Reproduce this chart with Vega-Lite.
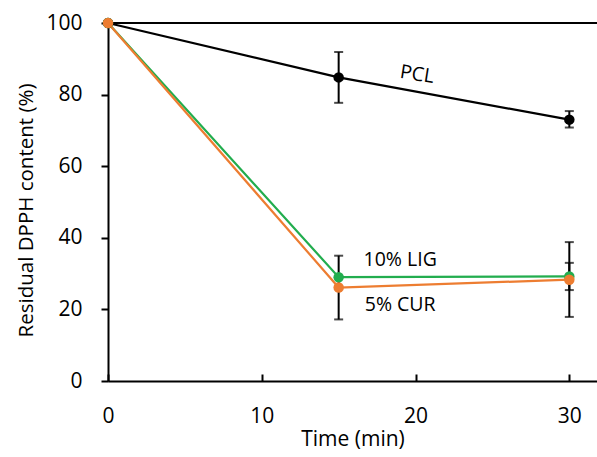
{
  "$schema": "https://vega.github.io/schema/vega-lite/v6.json",
  "width": 489,
  "height": 358,
  "autosize": {"type": "none"},
  "padding": {"left": 108, "top": 23, "right": 0, "bottom": 76},
  "background": "white",
  "config": {
    "view": {"stroke": null},
    "font": "Open Sans"
  },
  "datasets": {
    "main": [
      {"series": "PCL", "time": 0, "value": 100, "lo": 100, "hi": 100},
      {"series": "PCL", "time": 15, "value": 84.8, "lo": 77.7, "hi": 91.9},
      {"series": "PCL", "time": 30, "value": 73.0, "lo": 70.8, "hi": 75.4},
      {"series": "10% LIG", "time": 0, "value": 100, "lo": 100, "hi": 100},
      {"series": "10% LIG", "time": 15, "value": 29.0, "lo": 29.0, "hi": 29.0},
      {"series": "10% LIG", "time": 30, "value": 29.2, "lo": 25.4, "hi": 33.0},
      {"series": "5% CUR", "time": 0, "value": 100, "lo": 100, "hi": 100},
      {"series": "5% CUR", "time": 15, "value": 26.1, "lo": 17.2, "hi": 35.0},
      {"series": "5% CUR", "time": 30, "value": 28.3, "lo": 17.9, "hi": 38.8}
    ],
    "labels": [
      {"text": "PCL", "time": 20.1, "value": 85.6, "angle": 9, "style": "italic"},
      {"text": "10% LIG", "time": 19.0, "value": 33.8, "angle": 0, "style": "normal"},
      {"text": "5% CUR", "time": 19.0, "value": 21.3, "angle": 0, "style": "normal"}
    ]
  },
  "layer": [
    {
      "data": {"values": [{"y": 100}]},
      "mark": {"type": "rule", "color": "black", "strokeWidth": 2},
      "encoding": {"y": {"field": "y", "type": "quantitative", "scale": {"domain": [0, 100]}}}
    },
    {
      "data": {"name": "main"},
      "mark": {"type": "line", "strokeWidth": 2.2},
      "encoding": {
        "x": {"field": "time", "type": "quantitative", "scale": {"domain": [0, 31.8], "nice": false}, "axis": {"values": [0, 10, 20, 30], "title": "Time (min)", "grid": false, "labelFlush": false, "tickSize": -7, "tickWidth": 2, "domainWidth": 2, "domainColor": "black", "tickColor": "black", "labelColor": "black", "titleColor": "black", "labelFontSize": 21, "titleFontSize": 21, "titleFontWeight": "normal", "labelPadding": 31, "titlePadding": 2}},
        "y": {"field": "value", "type": "quantitative", "scale": {"domain": [0, 100], "nice": false}, "axis": {"values": [0, 20, 40, 60, 80, 100], "title": "Residual DPPH content (%)", "grid": false, "labelFlush": false, "tickSize": 7, "tickWidth": 2, "domainWidth": 2, "domainColor": "black", "tickColor": "black", "labelColor": "black", "titleColor": "black", "labelFontSize": 21, "titleFontSize": 20.5, "titleFontWeight": "normal", "labelPadding": 19, "titlePadding": 9, "titleY": 187}},
        "color": {"field": "series", "type": "nominal", "scale": {"domain": ["PCL", "10% LIG", "5% CUR"], "range": ["black", "#22ad4e", "#ed7d31"]}, "legend": null},
        "order": {"field": "series", "sort": "descending"}
      }
    },
    {
      "data": {"name": "main"},
      "mark": {"type": "rule", "color": "black", "strokeWidth": 2},
      "encoding": {
        "x": {"field": "time", "type": "quantitative"},
        "y": {"field": "lo", "type": "quantitative"},
        "y2": {"field": "hi"}
      }
    },
    {
      "data": {"name": "main"},
      "mark": {"type": "tick", "color": "black", "orient": "horizontal", "size": 9, "thickness": 2},
      "encoding": {
        "x": {"field": "time", "type": "quantitative"},
        "y": {"field": "lo", "type": "quantitative"}
      }
    },
    {
      "data": {"name": "main"},
      "mark": {"type": "tick", "color": "black", "orient": "horizontal", "size": 9, "thickness": 2},
      "encoding": {
        "x": {"field": "time", "type": "quantitative"},
        "y": {"field": "hi", "type": "quantitative"}
      }
    },
    {
      "data": {"name": "main"},
      "transform": [{"filter": "datum.series === 'PCL'"}],
      "mark": {"type": "point", "filled": true, "opacity": 1, "size": 110, "color": "black"},
      "encoding": {
        "x": {"field": "time", "type": "quantitative"},
        "y": {"field": "value", "type": "quantitative"}
      }
    },
    {
      "data": {"name": "main"},
      "transform": [{"filter": "datum.series === '10% LIG'"}],
      "mark": {"type": "point", "filled": true, "opacity": 1, "size": 110, "color": "#22ad4e"},
      "encoding": {
        "x": {"field": "time", "type": "quantitative"},
        "y": {"field": "value", "type": "quantitative"}
      }
    },
    {
      "data": {"name": "main"},
      "transform": [{"filter": "datum.series === '5% CUR'"}],
      "mark": {"type": "point", "filled": true, "opacity": 1, "size": 110, "color": "#ed7d31"},
      "encoding": {
        "x": {"field": "time", "type": "quantitative"},
        "y": {"field": "value", "type": "quantitative"}
      }
    },
    {
      "data": {"name": "labels"},
      "mark": {"type": "text", "fontSize": 19.5, "color": "black", "font": "Open Sans"},
      "encoding": {
        "x": {"field": "time", "type": "quantitative"},
        "y": {"field": "value", "type": "quantitative"},
        "text": {"field": "text"},
        "angle": {"field": "angle", "type": "quantitative", "scale": null},
        "fontStyle": {"field": "style", "type": "nominal", "scale": null}
      }
    }
  ]
}
